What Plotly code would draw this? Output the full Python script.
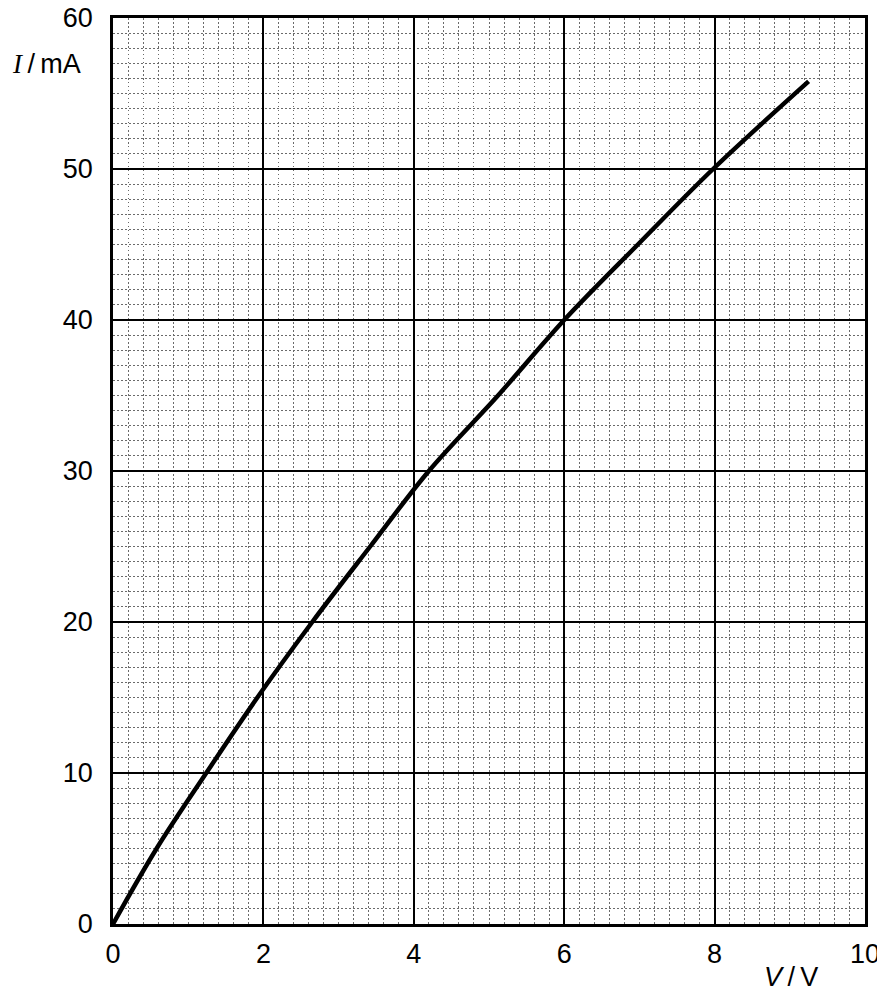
import plotly.graph_objects as go

# Data (V in volts, I in mA)
voltage = [0.0, 0.58, 1.24, 1.92, 2.65, 3.42, 4.2, 5.12, 6.0, 6.98, 7.98, 9.25]
current = [0.0, 5.0, 10.0, 15.0, 20.0, 25.0, 30.0, 35.0, 40.0, 45.0, 50.0, 55.8]

x_ticks = [0, 2, 4, 6, 8, 10]
y_ticks = [0, 10, 20, 30, 40, 50, 60]

FONT = "Liberation Sans, Arial, sans-serif"

fig = go.Figure()
fig.add_trace(go.Scatter(
    x=voltage, y=current, mode="lines",
    line=dict(color="black", width=4.5, shape="spline", smoothing=1.0),
    hoverinfo="skip", showlegend=False,
))

axis_common = dict(
    showline=True, linecolor="black", linewidth=2.5, mirror=True,
    showgrid=True, gridcolor="black", gridwidth=1.8,
    zeroline=False, ticks="", fixedrange=True, automargin=False,
    tickfont=dict(family=FONT, size=27, color="black"),
    ticklabeloverflow="allow",
    layer="below traces",
)

fig.update_xaxes(
    range=[0, 10], tickvals=x_ticks, ticktext=[str(v) for v in x_ticks],
    minor=dict(dtick=0.2, tick0=0, showgrid=True, gridcolor="#6a6a6a",
               gridwidth=1, griddash="1.5px,2.5px"),
    ticklabelstandoff=4,
    **axis_common,
)
fig.update_yaxes(
    range=[0, 60], tickvals=y_ticks, ticktext=[str(v) for v in y_ticks],
    minor=dict(dtick=1, tick0=0, showgrid=True, gridcolor="#6a6a6a",
               gridwidth=1, griddash="1.5px,2.5px"),
    ticklabelstandoff=12,
    **axis_common,
)

fig.add_annotation(
    xref="paper", yref="paper", x=-0.137, y=0.949, xanchor="left", yanchor="middle",
    text="<i><span style='font-family:Liberation Serif, Times New Roman, serif'>I</span></i>\u2009/\u2009mA",
    showarrow=False, font=dict(family=FONT, size=27, color="black"),
)
fig.add_annotation(
    xref="paper", yref="paper", x=0.902, y=-0.0585, xanchor="center", yanchor="middle",
    text="<i>V</i>\u2009/\u2009V",
    showarrow=False, font=dict(family=FONT, size=27, color="black"),
)

# page body adds ~8px offset; margins compensate so the plot lands where the reference has it
fig.update_layout(
    width=885, height=992,
    margin=dict(l=105, r=28, t=10, b=76),
    paper_bgcolor="white", plot_bgcolor="white",
    showlegend=False,
)

fig.write_html("out.html")
